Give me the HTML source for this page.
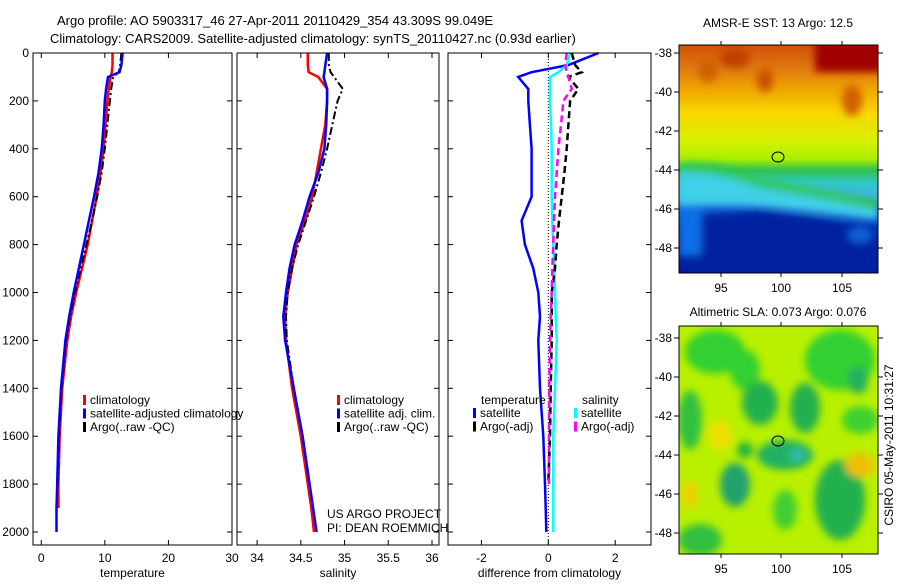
<!DOCTYPE html>
<html><head><meta charset="utf-8">
<style>
html,body{margin:0;padding:0;background:#fff;}
body{width:900px;height:580px;overflow:hidden;font-family:"Liberation Sans",sans-serif;}
svg text{font-family:"Liberation Sans",sans-serif;font-size:12px;fill:#000;}
</style></head>
<body>
<svg id="fig" width="900" height="580" viewBox="0 0 900 580" xmlns="http://www.w3.org/2000/svg">
<defs>
<linearGradient id="sstg" x1="0" y1="0" x2="0" y2="1">
<stop offset="0" stop-color="#d05008"/><stop offset="0.1" stop-color="#e07810"/>
<stop offset="0.2" stop-color="#f0a800"/><stop offset="0.3" stop-color="#f8d800"/>
<stop offset="0.42" stop-color="#d8f000"/><stop offset="0.5" stop-color="#a8f000"/>
<stop offset="0.55" stop-color="#30c050"/><stop offset="0.6" stop-color="#30c8c0"/>
<stop offset="0.67" stop-color="#40b0f0"/><stop offset="0.72" stop-color="#1060d8"/>
<stop offset="0.8" stop-color="#0030b0"/><stop offset="1" stop-color="#001890"/>
</linearGradient>
<filter id="blur4"><feGaussianBlur stdDeviation="4"/></filter>
<clipPath id="c1"><rect x="679" y="45" width="199" height="228"/></clipPath>
<clipPath id="c2"><rect x="679" y="326" width="199" height="228"/></clipPath>
</defs>
<g>
<text x="57" y="25" style="font-size:13px">Argo profile: AO 5903317_46 27-Apr-2011 20110429_354 43.309S 99.049E</text>
<text x="50" y="43" style="font-size:13px">Climatology: CARS2009. Satellite-adjusted climatology: synTS_20110427.nc (0.93d earlier)</text>
</g>
<g id="panels"></g>
<!-- SST map -->
<g>
<text x="778" y="27" text-anchor="middle">AMSR-E SST: 13 Argo: 12.5</text>
<g clip-path="url(#c1)">
<rect x="679" y="45" width="199" height="228" fill="url(#sstg)"/>
<g filter="url(#blur4)">
<rect x="815" y="40" width="70" height="32" fill="#a00000"/>
<ellipse cx="735" cy="58" rx="15" ry="10" fill="#c04000"/>
<ellipse cx="765" cy="80" rx="8" ry="12" fill="#c85000"/>
<ellipse cx="852" cy="100" rx="10" ry="16" fill="#d06000"/>
<ellipse cx="708" cy="70" rx="10" ry="12" fill="#d06000"/>
<path d="M679 163 Q720 160 760 178 Q820 190 878 200 L878 215 Q820 210 760 198 Q720 195 679 192 Z" fill="#30c850"/>
<path d="M679 172 Q720 172 760 188 Q820 198 878 210 L878 220 Q820 212 760 205 Q720 202 679 205 Z" fill="#40d0e8"/>
<path d="M679 218 L760 210 L820 218 L878 232 L878 273 L679 273 Z" fill="#0020a0"/>
<rect x="679" y="205" width="22" height="50" fill="#1070e8"/>
<ellipse cx="860" cy="235" rx="12" ry="8" fill="#1060d8"/>
</g>
</g>
<rect x="679" y="45" width="199" height="228" fill="none" stroke="#000"/>
<ellipse cx="778" cy="157" rx="6" ry="5" fill="none" stroke="#000"/>
</g>
<!-- SLA map -->
<g>
<text x="778" y="316" text-anchor="middle">Altimetric SLA: 0.073 Argo: 0.076</text>
<g clip-path="url(#c2)">
<rect x="679" y="326" width="199" height="228" fill="#b8f000"/>
<g filter="url(#blur4)">
<ellipse cx="715" cy="352" rx="30" ry="22" fill="#30d030"/>
<ellipse cx="745" cy="370" rx="15" ry="20" fill="#30d030"/>
<ellipse cx="840" cy="360" rx="35" ry="30" fill="#30d030"/>
<ellipse cx="858" cy="380" rx="10" ry="14" fill="#20b060"/>
<ellipse cx="760" cy="403" rx="18" ry="22" fill="#20b050"/>
<ellipse cx="805" cy="408" rx="15" ry="25" fill="#20b050"/>
<ellipse cx="785" cy="455" rx="28" ry="15" fill="#20b060"/>
<ellipse cx="797" cy="455" rx="8" ry="6" fill="#30c0b0"/>
<ellipse cx="735" cy="485" rx="15" ry="22" fill="#20a070"/>
<ellipse cx="840" cy="500" rx="25" ry="40" fill="#20b050"/>
<ellipse cx="690" cy="420" rx="12" ry="30" fill="#30c040"/>
<ellipse cx="700" cy="540" rx="22" ry="16" fill="#30c040"/>
<ellipse cx="860" cy="420" rx="18" ry="14" fill="#40d030"/>
<ellipse cx="720" cy="435" rx="12" ry="15" fill="#f0e000"/>
<ellipse cx="860" cy="465" rx="15" ry="12" fill="#f0c000"/>
<ellipse cx="690" cy="495" rx="8" ry="14" fill="#f0d000"/>
<ellipse cx="745" cy="450" rx="8" ry="8" fill="#20b040"/>
<ellipse cx="785" cy="510" rx="12" ry="20" fill="#40d030"/>
</g>
</g>
<rect x="679" y="326" width="199" height="228" fill="none" stroke="#000"/>
<ellipse cx="778" cy="441" rx="6" ry="5" fill="none" stroke="#000"/>
</g>
<g id="mapaxes"></g>
<text x="893" y="445" transform="rotate(-90 893 445)" text-anchor="middle">CSIRO 05-May-2011 10:31:27</text>
</svg>
<script>
var depths = [0,50,80,100,150,200,300,400,500,600,700,800,900,1000,1100,1200,1400,1600,1800,1900,2000];
var tClim = [11.2,11.2,11.1,10.9,10.6,10.4,10.1,9.8,9.3,8.7,8.0,7.3,6.4,5.5,4.7,4.1,3.3,2.9,2.7,2.7,null];
var tSat  = [12.8,12.6,12.3,10.5,10.2,10.0,9.8,9.5,9.0,8.3,7.5,6.7,5.9,5.1,4.4,3.8,3.1,2.7,2.5,2.4,2.4];
var tArgo = [12.6,12.4,12.2,11.3,11.0,10.8,10.4,10.0,9.5,8.8,8.0,7.1,6.2,5.3,4.5,3.9,3.2,2.8,2.6,null,null];
var sClim = [34.58,34.58,34.59,34.70,34.80,34.80,34.78,34.73,34.68,34.63,34.55,34.45,34.40,34.35,34.32,34.33,34.40,34.50,34.58,34.62,34.65];
var sSat  = [34.80,34.78,34.77,34.76,34.80,34.80,34.79,34.77,34.70,34.60,34.52,34.43,34.37,34.33,34.30,34.32,34.42,34.52,34.60,34.64,34.68];
var sArgo = [34.82,34.82,34.84,34.88,34.98,34.92,34.86,34.80,34.73,34.65,34.56,34.47,34.40,34.35,34.33,34.34,34.42,34.52,34.60,null,null];
var dTSat  = [1.5,0.6,-0.5,-0.9,-0.6,-0.6,-0.55,-0.5,-0.5,-0.5,-0.8,-0.7,-0.45,-0.3,-0.25,-0.3,-0.25,-0.15,-0.1,-0.08,-0.06];
var dSSat  = [0.65,0.55,0.3,0.05,0.05,0.05,0.08,0.1,0.1,0.1,0.12,0.15,0.18,0.2,0.22,0.25,0.2,0.15,0.15,0.15,0.15];
var dTArgo = [0.7,0.8,1.0,0.6,0.9,0.65,0.6,0.55,0.48,0.4,0.32,0.25,0.2,0.1,0.1,0.1,0.07,0.05,0.0,null,null];
var dSArgo = [0.55,0.5,0.55,0.6,0.7,0.45,0.38,0.3,0.25,0.2,0.17,0.15,0.12,0.1,0.07,0.05,0.03,0.02,0.02,null,null];
var depthTicks = [0,200,400,600,800,1000,1200,1400,1600,1800,2000];
var tTicks = [0,10,20,30];
var sTicks = [34,34.5,35,35.5,36];
var dTicks = [-2,0,2];
var latTicks = [-38,-40,-42,-44,-46,-48];
var lonTicks = [95,100,105];

var NS='http://www.w3.org/2000/svg';
var root=document.getElementById('panels');
function mk(tag,attrs,parent){var e=document.createElementNS(NS,tag);for(var k in attrs)e.setAttribute(k,attrs[k]);(parent||root).appendChild(e);return e;}
var TOP=53,BOT=545;
function yD(d){return TOP+d*0.2395;}
var panels=[
 {x0:33,x1:232,v0:-1.3,v1:30,ticks:tTicks,label:'temperature',name:'temperature-panel',leftLabels:true},
 {x0:237,x1:439,v0:33.77,v1:36.08,ticks:sTicks,label:'salinity',name:'salinity-panel'},
 {x0:448,x1:651,v0:-3.0,v1:3.07,ticks:dTicks,label:'difference from climatology',name:'difference-panel'}
];
function xf(p){return function(v){return p.x0+(v-p.v0)/(p.v1-p.v0)*(p.x1-p.x0);};}
function line(p,vals,color,dash,name,w){
  var X=xf(p),d='',pen=false;
  for(var i=0;i<depths.length;i++){
    if(vals[i]==null){pen=false;continue;}
    d+=(pen?'L':'M')+X(vals[i]).toFixed(1)+' '+yD(depths[i]).toFixed(1);pen=true;
  }
  var e=mk('path',{d:d,fill:'none',stroke:color,'stroke-width':w||2.5,'stroke-dasharray':dash||'none'},p.g);
  
  
}
panels.forEach(function(p){
  p.g=mk('g',{});
  
  
  var X=xf(p);
  p.ticks.forEach(function(t){
    var x=X(t);
    mk('line',{x1:x,x2:x,y1:BOT,y2:BOT-5,stroke:'#000'},p.g);
    mk('line',{x1:x,x2:x,y1:TOP,y2:TOP+5,stroke:'#000'},p.g);
    var tx=mk('text',{x:x,y:BOT+17,'text-anchor':'middle'},p.g);tx.textContent=String(t);
  });
  depthTicks.forEach(function(d){
    var y=yD(d);
    mk('line',{x1:p.x0,x2:p.x0+5,y1:y,y2:y,stroke:'#000'},p.g);
    mk('line',{x1:p.x1,x2:p.x1-5,y1:y,y2:y,stroke:'#000'},p.g);
    if(p.leftLabels){var tx=mk('text',{x:p.x0-4,y:y+4,'text-anchor':'end'},p.g);tx.textContent=String(d);}
  });
  var xl=mk('text',{x:(p.x0+p.x1)/2,y:577,'text-anchor':'middle'},p.g);xl.textContent=p.label;
});
(function(){var p=panels[2],x=xf(p)(0);var z=mk('line',{x1:x,x2:x,y1:TOP,y2:BOT,stroke:'#000','stroke-dasharray':'1 2'},p.g);

})();
line(panels[0],tClim,'#ff0000',null,'temperature-climatology-line');
line(panels[0],tArgo,'#000','8 3 2 3','temperature-argo-line',2);
line(panels[0],tSat,'#0000ff',null,'temperature-satellite-line');
line(panels[1],sClim,'#ff0000',null,'salinity-climatology-line');
line(panels[1],sArgo,'#000','8 3 2 3','salinity-argo-line',2);
line(panels[1],sSat,'#0000ff',null,'salinity-satellite-line');
line(panels[2],dTSat,'#0000ff',null,'temp-satellite-diff-line');
line(panels[2],dSSat,'#00ffff',null,'sal-satellite-diff-line');
line(panels[2],dTArgo,'#000','7 4','temp-argo-diff-line',2.5);
line(panels[2],dSArgo,'#ff00ff','7 4','sal-argo-diff-line',2.5);
panels.forEach(function(p){
  var fr=mk('rect',{x:p.x0,y:TOP,width:p.x1-p.x0,height:BOT-TOP,fill:'none',stroke:'#000'},p.g);
  
  
});
function legend(x,y,items,name){
  var g=mk('g',{});
  
  
  items.forEach(function(it,i){
    var yy=y+i*13.5;
    if(it[1]){mk('rect',{x:x,y:yy-9,width:3,height:10,fill:it[1]},g);}
    var t=mk('text',{x:x+(it[1]?7:0),y:yy},g);t.textContent=it[0];
  });
}
legend(83,404,[['climatology','#ff0000'],['satellite-adjusted climatology','#0000ff'],['Argo(..raw -QC)','#000']],'temperature-legend');
legend(337,404,[['climatology','#ff0000'],['satellite adj. clim.','#0000ff'],['Argo(..raw -QC)','#000']],'salinity-legend');
legend(481,404,[['temperature',null]],'diff-legend-temp-title');
legend(473,417,[['satellite','#0000ff'],['Argo(-adj)','#000']],'diff-legend-temp');
legend(582,404,[['salinity',null]],'diff-legend-sal-title');
legend(574,417,[['satellite','#00ffff'],['Argo(-adj)','#ff00ff']],'diff-legend-sal');
(function(){var g=mk('g',{});


var a=mk('text',{x:327,y:518},g);a.textContent='US ARGO PROJECT';
var b=mk('text',{x:327,y:532},g);b.textContent='PI: DEAN ROEMMICH';})();

var mroot=document.getElementById('mapaxes');
var lonPos={95:721,100:781,105:842};
[[45,53,248,273],[326,338,533,554]].forEach(function(m,mi){
  var g=mk('g',{},mroot);
  
  
  var step=(m[2]-m[1])/10;
  latTicks.forEach(function(l){
    var y=m[1]+(-38-l)*step;
    mk('line',{x1:679,x2:674,y1:y,y2:y,stroke:'#000'},g);
    mk('line',{x1:878,x2:883,y1:y,y2:y,stroke:'#000'},g);
    var t=mk('text',{x:672,y:y+4,'text-anchor':'end'},g);t.textContent=String(l);
  });
  lonTicks.forEach(function(l){
    var x=lonPos[l];
    mk('line',{x1:x,x2:x,y1:m[3],y2:m[3]+4,stroke:'#000'},g);
    mk('line',{x1:x,x2:x,y1:m[0],y2:m[0]-4,stroke:'#000'},g);
    var t=mk('text',{x:x,y:m[3]+19,'text-anchor':'middle'},g);t.textContent=String(l);
  });
});
</script>
</body></html>
